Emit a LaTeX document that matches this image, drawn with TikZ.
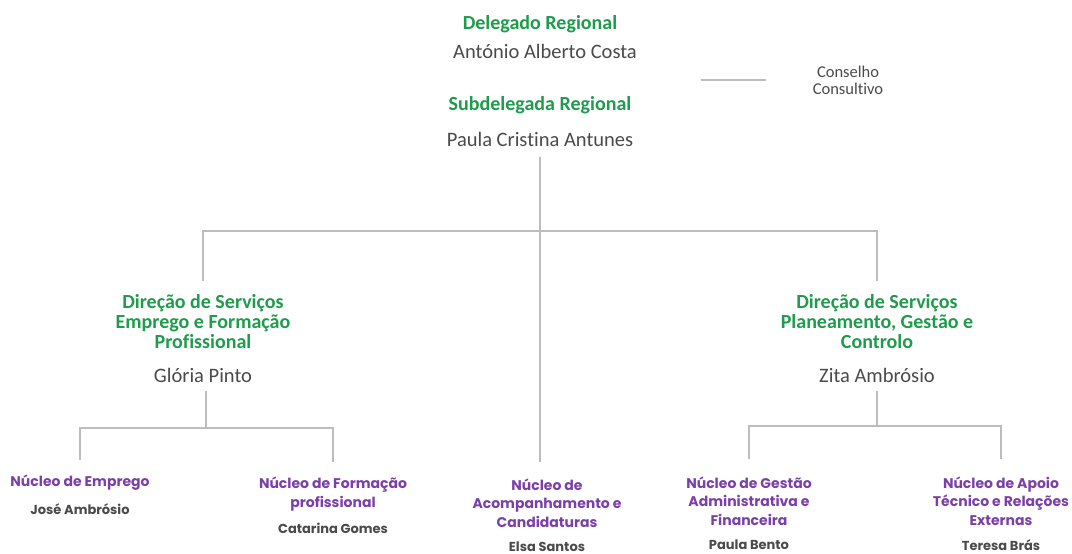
\documentclass[tikz,border=0pt]{standalone}
\usepackage{fontspec}
\setmainfont{Carlito}[Ligatures=NoCommon]
\newfontfamily\gothic{Poppins}
\usetikzlibrary{positioning}
\definecolor{Verde}{HTML}{1E9B4B}
\definecolor{Roxo}{HTML}{7B3FA8}
\definecolor{Cinza}{HTML}{4A4A4A}
\definecolor{Linha}{HTML}{BDBDBD}
\tikzset{
    chefe/.style={text=Verde, font=\fontsize{20}{20}\selectfont\bfseries, align=center, inner sep=0pt},
    nome/.style={text=Cinza, font=\fontsize{20.5}{22}\selectfont, align=center, inner sep=0pt},
    conselho/.style={text=Cinza, font=\fontsize{16.5}{17}\selectfont, align=center, inner sep=0pt},
    nucleo/.style={text=Roxo, font=\gothic\bfseries\fontsize{14}{18.5}\selectfont, align=center, inner sep=0pt},
    pessoa/.style={text=Cinza, font=\gothic\bfseries\fontsize{13}{15}\selectfont, align=center, inner sep=0pt},
    ligacao/.style={draw=Linha, line width=2pt},
}

\begin{document}
\begin{tikzpicture}[x=1pt, y=-1pt]
    \useasboundingbox (0,0) rectangle (1072,554);

    % Topo
    \node[chefe] (delegado) at (540,24) {Delegado Regional};
    \node[nome, below=11pt of delegado, xshift=5pt] (delNome) {António Alberto Costa};
    \node[conselho] (conselho) at (848,80) {Conselho\\Consultivo};
    \node[chefe] (subdelegada) at (540,105) {Subdelegada Regional};
    \node[nome, below=18pt of subdelegada] (subNome) {Paula Cristina Antunes};

    % Direcoes de servicos
    \node[chefe] (dirEmp) at (203,322) {Direção de Serviços\\Emprego e Formação\\Profissional};
    \node[nome, below=19pt of dirEmp] (nomeEmp) {Glória Pinto};
    \node[chefe] (dirPlan) at (877,322) {Direção de Serviços\\Planeamento, Gestão e\\Controlo};
    \node[nome, below=19pt of dirPlan] (nomePlan) {Zita Ambrósio};

    % Nucleos
    \node[nucleo] (nucEmp) at (80,483) {Núcleo de Emprego};
    \node[pessoa, below=13pt of nucEmp] (pesEmp) {José Ambrósio};
    \node[nucleo] (nucForm) at (333,494) {Núcleo de Formação\\profissional};
    \node[pessoa, below=12pt of nucForm] (pesForm) {Catarina Gomes};
    \node[nucleo] (nucAcomp) at (547,503) {Núcleo de\\Acompanhamento e\\Candidaturas};
    \node[pessoa, below=14pt of nucAcomp] (pesAcomp) {Elsa Santos};
    \node[nucleo] (nucGest) at (749,501) {Núcleo de Gestão\\Administrativa e\\Financeira};
    \node[pessoa, below=14pt of nucGest] (pesGest) {Paula Bento};
    \node[nucleo] (nucApoio) at (1001,501) {Núcleo de Apoio\\Técnico e Relações\\Externas};
    \node[pessoa, below=14pt of nucApoio] (pesApoio) {Teresa Brás};

    % Ligacoes
    \coordinate (barra) at (540,231);
    \coordinate (barraEmp) at (206,428);
    \coordinate (barraPlan) at (877,426);
    \draw[ligacao] ([xshift=-112pt]conselho.west) -- ([xshift=-47pt]conselho.west);
    \draw[ligacao, shorten <=10pt, shorten >=16pt] (subNome.south) -- (nucAcomp.north -| subNome.south);
    \draw[ligacao, shorten <=14pt, shorten >=14pt] (dirEmp.north) -- (dirEmp.north |- barra) -- (dirPlan.north |- barra) -- (dirPlan.north);
    \draw[ligacao, shorten <=8pt] (nomeEmp.south -| barraEmp) -- (barraEmp);
    \draw[ligacao, shorten <=15pt, shorten >=15pt] (nucEmp.north) -- (nucEmp.north |- barraEmp) -- (nucForm.north |- barraEmp) -- (nucForm.north);
    \draw[ligacao, shorten <=8pt] (nomePlan.south -| barraPlan) -- (barraPlan);
    \draw[ligacao, shorten <=17pt, shorten >=17pt] (nucGest.north) -- (nucGest.north |- barraPlan) -- (nucApoio.north |- barraPlan) -- (nucApoio.north);
\end{tikzpicture}
\end{document}
